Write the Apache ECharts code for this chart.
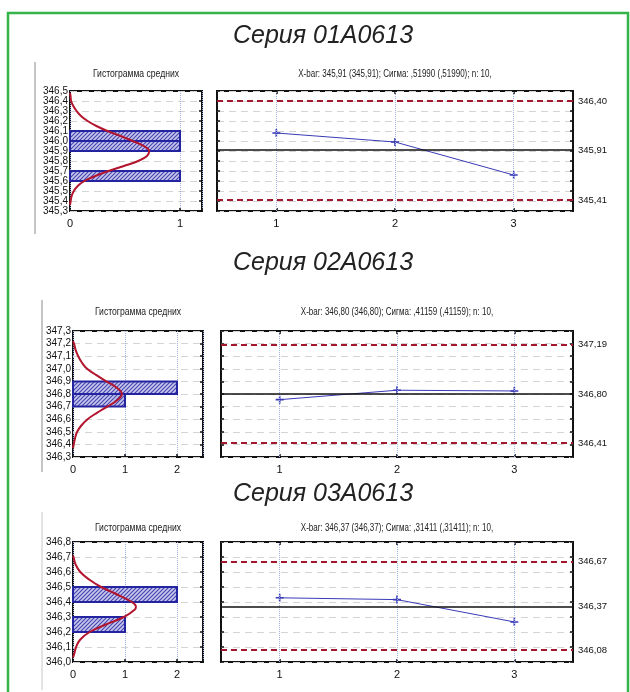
<!DOCTYPE html>
<html><head><meta charset="utf-8">
<script src="https://cdn.jsdelivr.net/npm/echarts@6/dist/echarts.min.js"></script>
<style>html,body{margin:0;padding:0;background:#fff}#c{width:630px;height:692px}</style>
</head><body><div id="c"></div><script>
// ---------- DATA ----------
const seriesTitles = ['Серия 01A0613', 'Серия 02A0613', 'Серия 03A0613'];
const histTitle = 'Гистограмма средних';
const xbarTitles = [
  'X-bar: 345,91 (345,91); Сигма: ,51990 (,51990); n: 10,',
  'X-bar: 346,80 (346,80); Сигма: ,41159 (,41159); n: 10,',
  'X-bar: 346,37 (346,37); Сигма: ,31411 (,31411); n: 10,'
];
const samples = ['1', '2', '3'];
const means1 = [346.08, 345.99, 345.66];
const means2 = [346.755, 346.83, 346.824];
const means3 = [346.428, 346.416, 346.267];
const ucl = [346.40, 347.19, 346.67];
const cl  = [345.91, 346.80, 346.37];
const lcl = [345.41, 346.41, 346.08];
const yMin = [345.3, 346.3, 346.0];
const yMax = [346.5, 347.3, 346.8];
const histXMax = [1.2, 2.5, 2.5];
const binWidth = 0.1;
const hist1Lo = [345.6, 345.9, 346.0], hist1Count = [1, 1, 1];
const hist2Lo = [346.7, 346.8],        hist2Count = [1, 2];
const hist3Lo = [346.2, 346.4],        hist3Count = [1, 2];
// normal curves (y value, expected count)
const curve1Y = [346.48,346.45,346.4,346.35,346.3,346.25,346.2,346.15,346.1,346.05,346.0,345.95,345.9,345.85,345.8,345.75,345.7,345.65,345.6,345.55,345.5,345.45,345.4,345.36];
const curve1X = [0.0,0.005,0.01,0.03,0.06,0.10,0.16,0.24,0.34,0.46,0.57,0.67,0.72,0.70,0.62,0.49,0.35,0.23,0.13,0.07,0.035,0.015,0.006,0.0];
const curve2Y = [347.22,347.2,347.15,347.1,347.05,347.0,346.95,346.9,346.85,346.8,346.75,346.7,346.65,346.6,346.55,346.5,346.45,346.4,346.37];
const curve2X = [0.0,0.02,0.05,0.10,0.17,0.27,0.45,0.64,0.84,0.94,0.85,0.66,0.46,0.28,0.16,0.08,0.04,0.015,0.0];
const curve3Y = [346.71,346.7,346.65,346.6,346.55,346.5,346.45,346.4,346.37,346.35,346.3,346.25,346.2,346.15,346.1,346.05,346.03];
const curve3X = [0.0,0.01,0.05,0.14,0.31,0.54,0.85,1.13,1.21,1.19,0.98,0.63,0.32,0.14,0.06,0.02,0.0];

const means = [means1, means2, means3];
const histLo = [hist1Lo, hist2Lo, hist3Lo];
const histCount = [hist1Count, hist2Count, hist3Count];
const curveY = [curve1Y, curve2Y, curve3Y];
const curveX = [curve1X, curve2X, curve3X];

// ---------- LAYOUT ----------
const SANS = "'Liberation Sans', Arial, sans-serif";
const histGrid = [
  {left: 70, top: 91, width: 132, height: 120},
  {left: 73, top: 331, width: 130, height: 126},
  {left: 73, top: 542, width: 130, height: 120}
];
const xbarGrid = [
  {left: 217, top: 91, width: 356, height: 120},
  {left: 221, top: 331, width: 352, height: 126},
  {left: 221, top: 542, width: 352, height: 120}
];
const titleY = [36, 263, 494];
const subY = [74, 312, 528];

// hatch pattern
const pc = document.createElement('canvas'); pc.width = 4; pc.height = 4;
const g = pc.getContext('2d');
g.fillStyle = '#c8c8ee'; g.fillRect(0, 0, 4, 4);
g.strokeStyle = '#4646ae'; g.lineWidth = 1.2;
g.beginPath(); g.moveTo(-1, 5); g.lineTo(5, -1); g.moveTo(-1, 1); g.lineTo(1, -1); g.moveTo(3, 5); g.lineTo(5, 3); g.stroke();
const hatch = {image: pc, repeat: 'repeat'};

const fmt1 = v => v.toFixed(1).replace('.', ',');
const fmt2 = v => v.toFixed(2).replace('.', ',');

const grids = [], xAxes = [], yAxes = [], series = [], graphics = [];
const gridStyle = {show: true, borderColor: '#111', borderWidth: 2, backgroundColor: '#fff'};
const hSplit = {show: true, lineStyle: {color: '#d4d4d4', type: [7, 5], width: 1}};
const vSplit = {show: true, lineStyle: {color: '#9fb0e4', type: 'dotted', width: 1}};
const tick = {show: true, inside: true, length: 3, lineStyle: {color: '#111', width: 1.5}};

for (let i = 0; i < 3; i++) {
  const gh = grids.length; grids.push(Object.assign({}, gridStyle, histGrid[i]));
  const gx = grids.length; grids.push(Object.assign({}, gridStyle, xbarGrid[i]));

  // hist axes
  const xh = xAxes.length;
  xAxes.push({type: 'value', gridIndex: gh, min: 0, max: histXMax[i], interval: 1,
    axisLine: {show: false}, splitLine: vSplit, axisTick: tick,
    axisLabel: {fontSize: 11, color: '#111', margin: 7, fontFamily: SANS,
      formatter: v => Number.isInteger(v) ? String(v) : ''}});
  const yh = yAxes.length;
  yAxes.push({type: 'value', gridIndex: gh, min: yMin[i], max: yMax[i], interval: 0.1,
    axisLine: {show: false}, splitLine: hSplit, axisTick: {show: false},
    axisLabel: {fontSize: 10, color: '#111', margin: 2, fontFamily: SANS, formatter: fmt1,
      showMinLabel: true, showMaxLabel: true}});
  yAxes.push({type: 'value', gridIndex: gh, position: 'right', min: yMin[i], max: yMax[i], interval: 0.1,
    axisLine: {show: false}, splitLine: {show: false}, axisTick: tick, axisLabel: {show: false}});

  // xbar axes
  const xx = xAxes.length;
  xAxes.push({type: 'category', gridIndex: gx, data: samples, boundaryGap: true,
    axisLine: {show: false}, axisTick: Object.assign({alignWithLabel: true}, tick),
    axisLabel: {fontSize: 11, color: '#111', margin: 7, fontFamily: SANS}});
  xAxes.push({type: 'category', gridIndex: gx, data: samples, boundaryGap: true, position: 'top',
    axisLine: {show: false}, axisTick: Object.assign({alignWithLabel: true}, tick),
    axisLabel: {show: false}});
  const yx = yAxes.length;
  yAxes.push({type: 'value', gridIndex: gx, min: yMin[i], max: yMax[i], interval: 0.1,
    axisLine: {show: false}, splitLine: hSplit, axisTick: tick, axisLabel: {show: false}});
  yAxes.push({type: 'value', gridIndex: gx, position: 'right', min: yMin[i], max: yMax[i], interval: 0.1,
    axisLine: {show: false}, splitLine: {show: false}, axisTick: tick, axisLabel: {show: false}});

  // histogram bars
  series.push({type: 'custom', xAxisIndex: xh, yAxisIndex: yh, z: 3,
    data: histLo[i].map((lo, k) => [lo, lo + binWidth, histCount[i][k]]),
    encode: {x: 2, y: [0, 1]},
    renderItem: (params, api) => {
      const lo = api.value(0), hi = api.value(1), n = api.value(2);
      const a = api.coord([0, hi]), b = api.coord([n, lo]);
      return {type: 'rect', shape: {x: a[0], y: a[1], width: b[0] - a[0], height: b[1] - a[1]},
        style: {fill: hatch, stroke: '#2424a0', lineWidth: 2}};
    }});
  // normal curve
  series.push({type: 'line', xAxisIndex: xh, yAxisIndex: yh, z: 5, smooth: 0.4, showSymbol: false,
    data: curveY[i].map((y, k) => [curveX[i][k], y]),
    lineStyle: {color: '#b3142e', width: 2}, itemStyle: {color: '#b3142e'}});

  // sample means + dotted verticals + control lines
  series.push({type: 'line', xAxisIndex: xx, yAxisIndex: yx, z: 4,
    data: means[i],
    symbol: 'path://M4,0h2v4h4v2h-4v4h-2v-4h-4v-2h4z', symbolSize: 8, showAllSymbol: true,
    lineStyle: {color: '#3a3ab8', width: 1}, itemStyle: {color: '#3a3ab8'},
    markLine: {silent: true, symbol: 'none', animation: false,
      label: {position: 'end', distance: 5, fontSize: 9.5, color: '#111', fontFamily: SANS,
        formatter: p => fmt2(p.value)},
      data: [
        ...samples.map(s => ({xAxis: s, label: {show: false},
          lineStyle: {color: '#9fb0e4', type: 'dotted', width: 1}})),
        {yAxis: ucl[i], lineStyle: {color: '#a3172f', type: [6, 4], width: 2}},
        {yAxis: cl[i], lineStyle: {color: '#111', type: 'solid', width: 1.6}},
        {yAxis: lcl[i], lineStyle: {color: '#a3172f', type: [6, 4], width: 2}}
      ]}});

  // titles
  graphics.push({type: 'text', x: 323, y: titleY[i], z: 10,
    style: {text: seriesTitles[i], fontSize: 25, fontStyle: 'italic', fill: '#222',
      fontFamily: SANS, align: 'center', verticalAlign: 'middle'}});
  graphics.push({type: 'text', x: histGrid[i].left + histGrid[i].width / 2, y: subY[i], z: 10, scaleX: 0.86,
    style: {text: histTitle, fontSize: 10, fill: '#222', fontFamily: SANS, align: 'center', verticalAlign: 'middle'}});
  graphics.push({type: 'text', x: xbarGrid[i].left + xbarGrid[i].width / 2, y: subY[i], z: 10, scaleX: 0.8,
    style: {text: xbarTitles[i], fontSize: 10, fill: '#222', fontFamily: SANS, align: 'center', verticalAlign: 'middle'}});
}

// frame and faint screenshot edges
graphics.push({type: 'rect', shape: {x: 8, y: 13, width: 620, height: 700}, z: 0,
  style: {fill: 'none', stroke: '#35b44a', lineWidth: 2.5}});
graphics.push({type: 'line', shape: {x1: 35, y1: 62, x2: 35, y2: 234}, style: {stroke: '#8a8a8a', lineWidth: 1}});
graphics.push({type: 'line', shape: {x1: 42, y1: 300, x2: 42, y2: 472}, style: {stroke: '#8a8a8a', lineWidth: 1}});
graphics.push({type: 'line', shape: {x1: 42, y1: 512, x2: 42, y2: 690}, style: {stroke: '#c8c8c8', lineWidth: 1}});

const chart = echarts.init(document.getElementById('c'), null, {renderer: 'canvas'});
chart.setOption({
  animation: false,
  backgroundColor: '#fff',
  grid: grids, xAxis: xAxes, yAxis: yAxes, series: series,
  graphic: {elements: graphics}
});
</script></body></html>
